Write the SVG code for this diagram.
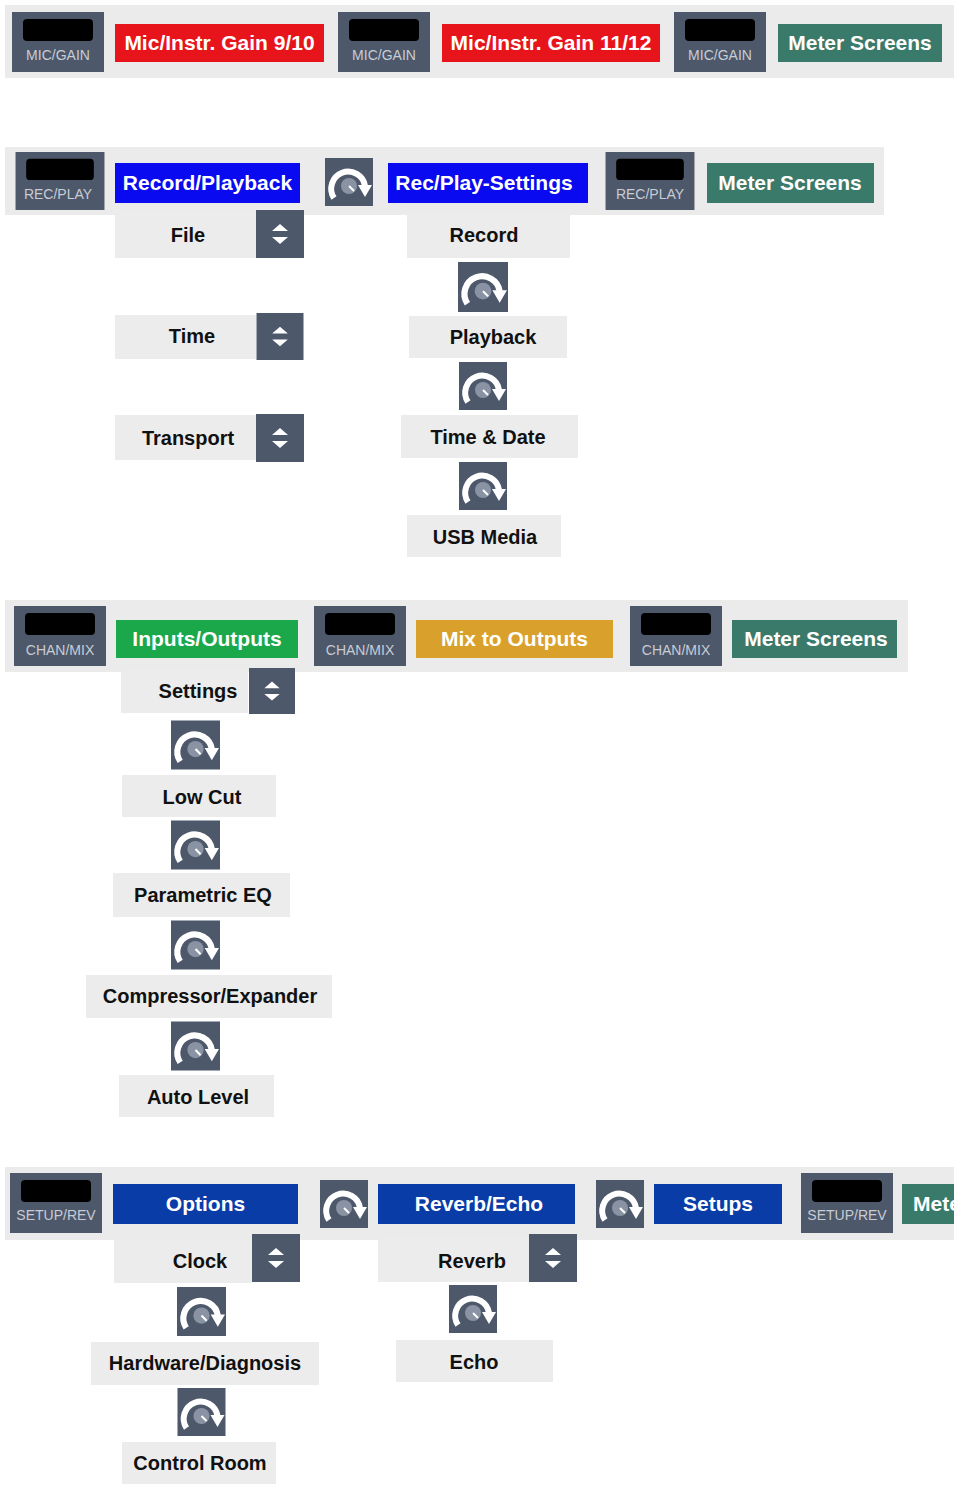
<svg xmlns="http://www.w3.org/2000/svg" xmlns:xlink="http://www.w3.org/1999/xlink" width="954" height="1485" viewBox="0 0 954 1485">
<style>
.band{fill:#ebebeb}
.item{fill:#ececec}
.slate{fill:#4d586b}
.hd{font-family:"Liberation Sans",Arial,sans-serif;font-weight:bold;font-size:21px;fill:#fff;text-anchor:middle}
.it{font-family:"Liberation Sans",Arial,sans-serif;font-weight:bold;font-size:20px;fill:#111;text-anchor:middle}
.bl{font-family:"Liberation Sans",Arial,sans-serif;font-size:14px;fill:#c8ccd4;text-anchor:middle}
</style>
<defs>
<symbol id="knob" viewBox="0 0 48 48">
<rect x="0" y="0" width="48" height="48" class="slate"/>
<path d="M9 40 A17 17 0 1 1 40 28" fill="none" stroke="#fff" stroke-width="6"/>
<polygon points="33,27 47,27 40,39" fill="#fff"/>
<circle cx="24" cy="28" r="8" fill="#8a93a3"/>
<line x1="24" y1="28" x2="29" y2="33" stroke="#fff" stroke-width="2"/>
</symbol>
<symbol id="ud" viewBox="0 0 48 48">
<rect x="0" y="0" width="48" height="48" class="slate"/>
<polygon points="16,21 24,14 32,21" fill="#fff"/>
<polygon points="16,27 24,34 32,27" fill="#fff"/>
</symbol>
<symbol id="btn" viewBox="0 0 92 60">
<rect x="0" y="0" width="92" height="60" class="slate"/>
<rect x="11" y="7" width="70" height="22" rx="4" fill="#000"/>
</symbol>
</defs>
<rect width="954" height="1485" fill="#fff"/>
<g id="connectors"></g>

<!-- Row 1 -->
<rect class="band" x="5" y="5" width="949" height="73"/>
<g id="r1b1"><use href="#btn" x="12" y="12" width="92" height="60"/><text class="bl" x="58" y="60">MIC/GAIN</text></g>
<g id="r1h1"><rect x="115" y="24" width="209" height="38" fill="#e8141c"/><text class="hd" x="219.5" y="50">Mic/Instr. Gain 9/10</text></g>
<g id="r1b2"><use href="#btn" x="338" y="12" width="92" height="60"/><text class="bl" x="384" y="60">MIC/GAIN</text></g>
<g id="r1h2"><rect x="442" y="24" width="218" height="38" fill="#e8141c"/><text class="hd" x="551" y="50">Mic/Instr. Gain 11/12</text></g>
<g id="r1b3"><use href="#btn" x="674" y="12" width="92" height="60"/><text class="bl" x="720" y="60">MIC/GAIN</text></g>
<g id="r1h3"><rect x="778" y="24" width="164" height="38" fill="#3a7a6b"/><text class="hd" x="860" y="50">Meter Screens</text></g>

<!-- Row 2 -->
<rect class="band" x="5" y="147" width="879" height="68"/>
<g id="r2b1"><use href="#btn" x="12" y="152" width="96" height="58"/><text class="bl" x="58" y="199">REC/PLAY</text></g>
<g id="r2h1"><rect x="115" y="163" width="185" height="40" fill="#0a0af0"/><text class="hd" x="207.5" y="190">Record/Playback</text></g>
<g id="r2k1"><use href="#knob" x="325" y="158" width="48" height="48"/></g>
<g id="r2h2"><rect x="388" y="163" width="200" height="40" fill="#0a0af0"/><text class="hd" x="484" y="190">Rec/Play-Settings</text></g>
<g id="r2b2"><use href="#btn" x="604" y="152" width="92" height="58"/><text class="bl" x="650" y="199">REC/PLAY</text></g>
<g id="r2h3"><rect x="707" y="163" width="167" height="40" fill="#3a7a6b"/><text class="hd" x="790" y="190">Meter Screens</text></g>

<g id="file"><rect class="item" x="115" y="210" width="141" height="48"/><text class="it" x="188" y="242">File</text><use href="#ud" x="256" y="210" width="48" height="48"/></g>
<g id="time"><rect class="item" x="115" y="315" width="141" height="44"/><text class="it" x="192" y="343">Time</text><use href="#ud" x="256" y="313" width="48" height="47"/></g>
<g id="transport"><rect class="item" x="115" y="415" width="141" height="45"/><text class="it" x="188" y="445">Transport</text><use href="#ud" x="256" y="414" width="48" height="48"/></g>

<g id="record"><rect class="item" x="407" y="213" width="163" height="45"/><text class="it" x="484" y="242">Record</text></g>
<g id="k2a"><use href="#knob" x="458" y="262" width="50" height="50"/></g>
<g id="playback"><rect class="item" x="409" y="316" width="158" height="42"/><text class="it" x="493" y="344">Playback</text></g>
<g id="k2b"><use href="#knob" x="458" y="362" width="50" height="48"/></g>
<g id="timedate"><rect class="item" x="401" y="415" width="177" height="43"/><text class="it" x="488" y="444">Time &amp; Date</text></g>
<g id="k2c"><use href="#knob" x="458" y="462" width="50" height="48"/></g>
<g id="usb"><rect class="item" x="407" y="515" width="154" height="42"/><text class="it" x="485" y="544">USB Media</text></g>

<!-- Row 3 -->
<rect class="band" x="5" y="600" width="903" height="72"/>
<g id="r3b1"><use href="#btn" x="14" y="606" width="92" height="60"/><text class="bl" x="60" y="655">CHAN/MIX</text></g>
<g id="r3h1"><rect x="116" y="620" width="182" height="38" fill="#1aa84a"/><text class="hd" x="207" y="646">Inputs/Outputs</text></g>
<g id="r3b2"><use href="#btn" x="314" y="606" width="92" height="60"/><text class="bl" x="360" y="655">CHAN/MIX</text></g>
<g id="r3h2"><rect x="416" y="620" width="197" height="38" fill="#d9a12b"/><text class="hd" x="514.5" y="646">Mix to Outputs</text></g>
<g id="r3b3"><use href="#btn" x="630" y="606" width="92" height="60"/><text class="bl" x="676" y="655">CHAN/MIX</text></g>
<g id="r3h3"><rect x="732" y="620" width="165" height="38" fill="#3a7a6b"/><text class="hd" x="816" y="646">Meter Screens</text></g>

<g id="settings"><rect class="item" x="121" y="670" width="127" height="43"/><text class="it" x="198" y="698">Settings</text><use href="#ud" x="248" y="668" width="48" height="46"/></g>
<g id="k3a"><use href="#knob" x="171" y="720" width="49" height="50"/></g>
<g id="lowcut"><rect class="item" x="122" y="775" width="154" height="42"/><text class="it" x="202" y="804">Low Cut</text></g>
<g id="k3b"><use href="#knob" x="171" y="820" width="49" height="50"/></g>
<g id="peq"><rect class="item" x="113" y="873" width="177" height="44"/><text class="it" x="203" y="902">Parametric EQ</text></g>
<g id="k3c"><use href="#knob" x="171" y="920" width="49" height="50"/></g>
<g id="comp"><rect class="item" x="86" y="975" width="246" height="43"/><text class="it" x="210" y="1003">Compressor/Expander</text></g>
<g id="k3d"><use href="#knob" x="171" y="1021" width="49" height="50"/></g>
<g id="autolevel"><rect class="item" x="119" y="1075" width="155" height="42"/><text class="it" x="198" y="1104">Auto Level</text></g>

<!-- Row 4 -->
<rect class="band" x="5" y="1167" width="949" height="73"/>
<g id="r4b1"><use href="#btn" x="10" y="1173" width="92" height="60"/><text class="bl" x="56" y="1220">SETUP/REV</text></g>
<g id="r4h1"><rect x="113" y="1184" width="185" height="40" fill="#0a3ca8"/><text class="hd" x="205.5" y="1211">Options</text></g>
<g id="r4k1"><use href="#knob" x="320" y="1180" width="48" height="48"/></g>
<g id="r4h2"><rect x="378" y="1184" width="197" height="40" fill="#0a3ca8"/><text class="hd" x="479" y="1211">Reverb/Echo</text></g>
<g id="r4k2"><use href="#knob" x="596" y="1180" width="48" height="48"/></g>
<g id="r4h3"><rect x="654" y="1184" width="128" height="40" fill="#0a3ca8"/><text class="hd" x="718" y="1211">Setups</text></g>
<g id="r4b2"><use href="#btn" x="801" y="1173" width="92" height="60"/><text class="bl" x="847" y="1220">SETUP/REV</text></g>
<g id="r4h4"><rect x="902" y="1184" width="52" height="40" fill="#3a7a6b"/><text class="hd" x="913" y="1211" style="text-anchor:start">Meter Screens</text></g>

<g id="clock"><rect class="item" x="114" y="1240" width="138" height="43"/><text class="it" x="200" y="1268">Clock</text><use href="#ud" x="252" y="1234" width="48" height="48"/></g>
<g id="k4a"><use href="#knob" x="177" y="1287" width="49" height="49"/></g>
<g id="hw"><rect class="item" x="91" y="1342" width="228" height="43"/><text class="it" x="205" y="1370">Hardware/Diagnosis</text></g>
<g id="k4b"><use href="#knob" x="177" y="1388" width="49" height="48"/></g>
<g id="cr"><rect class="item" x="122" y="1442" width="154" height="42"/><text class="it" x="200" y="1470">Control Room</text></g>
<g id="reverb"><rect class="item" x="378" y="1238" width="151" height="44"/><text class="it" x="472" y="1268">Reverb</text><use href="#ud" x="529" y="1234" width="48" height="48"/></g>
<g id="k4c"><use href="#knob" x="448" y="1285" width="50" height="48"/></g>
<g id="echo"><rect class="item" x="396" y="1340" width="157" height="42"/><text class="it" x="474" y="1369">Echo</text></g>
<rect x="954" y="0" width="1" height="1485" fill="#fff"/>
</svg>
